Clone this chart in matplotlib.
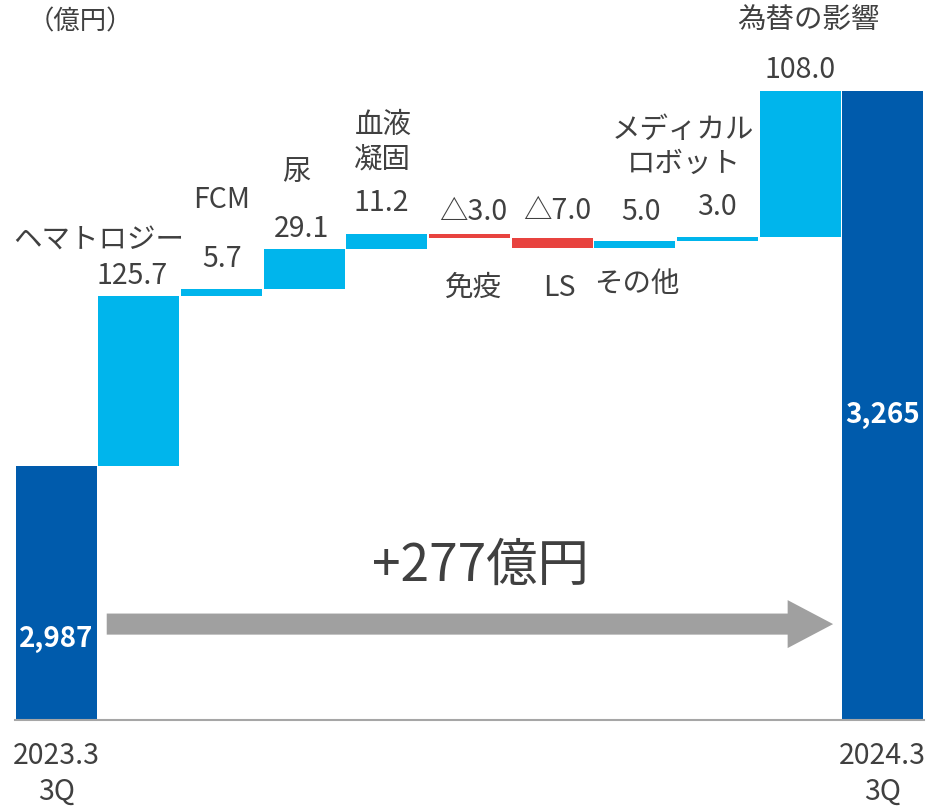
import numpy as np
import matplotlib
matplotlib.use("Agg")
import matplotlib.pyplot as plt
from matplotlib.patches import FancyArrow

plt.rcParams['font.family'] = ['Noto Sans CJK JP', 'DejaVu Sans']

# ---------- data ----------
start_label = '2023.3\n3Q'
end_label = '2024.3\n3Q'
start_value = 2987
end_value = 3265
categories = ['ヘマトロジー', 'FCM', '尿', '血液\n凝固', '免疫', 'LS', 'その他',
              'メディカル\nロボット', '為替の影響']
deltas = [125.7, 5.7, 29.1, 11.2, -3.0, -7.0, 5.0, 3.0, 108.0]
value_texts = ['125.7', '5.7', '29.1', '11.2', '△3.0', '△7.0', '5.0', '3.0', '108.0']
total_text = '+277億円'
unit_text = '（億円）'

# ---------- style ----------
DARK = '#005BAC'
LIGHT = '#00B5EC'
RED = '#E8433F'
TXT = '#404040'
FS = 20.5

# label offsets in pixels relative to the bar top (value, category)
value_off = [(-7, 20), (0, 30), (-3, 20), (-6, 31), (4, 22), (5, 27), (6, 29), (0, 30), (0, 21)]
cat_off = [(-40, 56), (0, 89), (-8, 77), (-4, 92), (4, -54), (7, -50), (2, -43), (-34, 90), (8, 71)]

fig = plt.figure(figsize=(9.3, 8.09), dpi=100)
ax = fig.add_axes([15 / 930, 89 / 809, 909 / 930, 720 / 809])
ymin, ymax = 2799, 3332
ax.set_xlim(-0.5, 10.5)
ax.set_ylim(ymin, ymax)

w = 0.98
n = len(deltas)

# start / end bars
ax.bar(0, start_value, width=w, color=DARK)
ax.bar(n + 1, end_value, width=w, color=DARK)

# step bars
level = start_value
tops = []
for i, d in enumerate(deltas):
    bottom = level if d >= 0 else level + d
    ax.bar(i + 1, abs(d), bottom=bottom, width=w, color=LIGHT if d >= 0 else RED)
    tops.append(bottom + abs(d))
    level += d

for i, (vt, cat) in enumerate(zip(value_texts, categories)):
    ax.annotate(vt, xy=(i + 1, tops[i]), xytext=value_off[i], textcoords='offset pixels',
                ha='center', va='center', fontsize=FS, color=TXT)
    ax.annotate(cat, xy=(i + 1, tops[i]), xytext=cat_off[i], textcoords='offset pixels',
                ha='center', va='center', fontsize=FS, color=TXT, linespacing=1.2)

# values inside start / end bars
ax.text(0, start_value - 128, f'{start_value:,}', ha='center', va='center',
        fontsize=20, fontweight='bold', color='white')
ax.text(n + 1, end_value - 240, f'{end_value:,}', ha='center', va='center',
        fontsize=20, fontweight='bold', color='white')

# total change arrow
ax.add_patch(FancyArrow(0.61, 2870, 8.79, 0, width=15.6, head_width=35.5,
                        head_length=0.55, length_includes_head=True,
                        color='#A0A0A0', lw=0))
ax.text(5.13, 2913, total_text, ha='center', va='center', fontsize=37, color=TXT)

ax.text(0.29, 3316, unit_text, ha='center', va='center', fontsize=19, color=TXT)

ax.set_xticks([0, n + 1])
ax.set_xticklabels([start_label, end_label], fontsize=FS, color=TXT, linespacing=1.25)
ax.tick_params(axis='x', length=0, pad=15)
ax.set_yticks([])
for s in ['top', 'left', 'right']:
    ax.spines[s].set_visible(False)
ax.spines['bottom'].set_color('#A6A6A6')
ax.spines['bottom'].set_linewidth(1.5)

fig.savefig('out.png', dpi=100)
